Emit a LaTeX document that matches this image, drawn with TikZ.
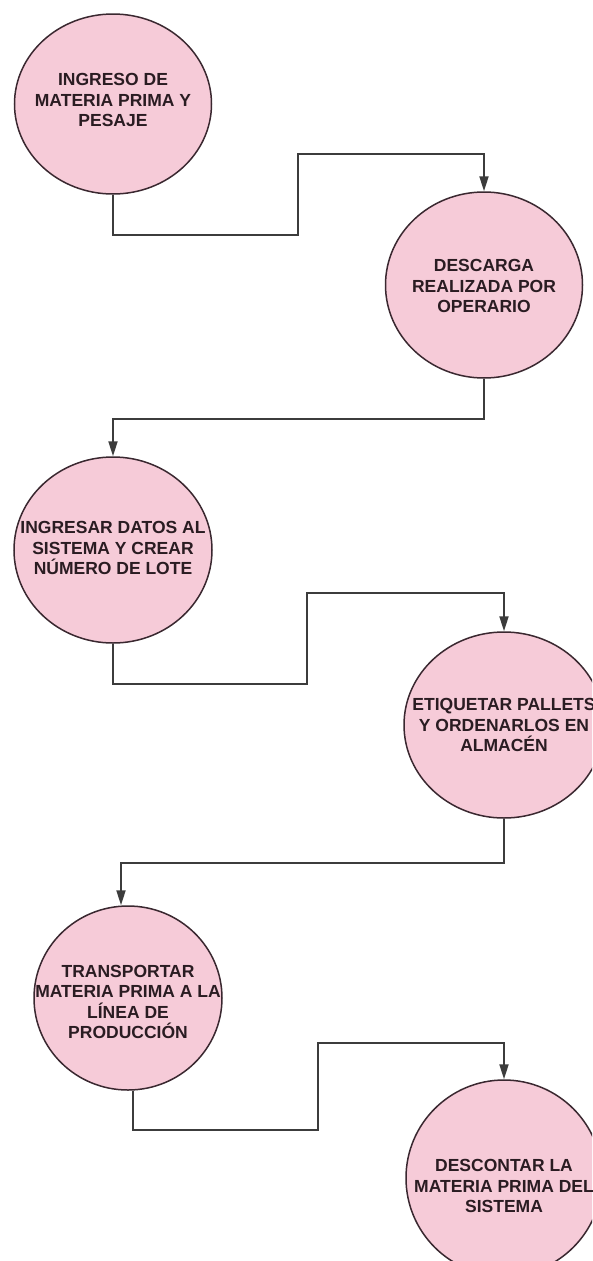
\documentclass[tikz,border=0pt]{standalone}
\usepackage{fontspec}
\setmainfont{Liberation Sans}
\usetikzlibrary{shapes.geometric,arrows.meta}
\definecolor{stepfill}{HTML}{F6CBD8}
\definecolor{stepline}{HTML}{3A2830}
\definecolor{steptext}{HTML}{2A1C22}
\definecolor{linkgray}{HTML}{3C3C3C}
\begin{document}
\begin{tikzpicture}[x=1pt,y=-1pt,
  stepnode/.style={ellipse, draw=stepline, line width=1.5pt, fill=stepfill, inner sep=0pt},
  steplabel/.style={inner sep=0pt, text=steptext, align=center,
    font=\bfseries\fontsize{17.5}{20.5}\selectfont},
  link/.style={draw=linkgray, line width=1.9pt, -{Triangle[length=15pt,width=9pt]}},
]
\useasboundingbox (0,0) rectangle (592,1261);
\fill[white] (0,0) rectangle (592,1261);
\clip (0,0) rectangle (592,1261);

% process steps
\node[stepnode, minimum width=197pt, minimum height=180pt] (c1) at (113,104) {};
\node[steplabel] (t1) at (113,100) {INGRESO DE\\MATERIA PRIMA Y\\PESAJE};

\node[stepnode, minimum width=197pt, minimum height=186pt] (c2) at (484,285) {};
\node[steplabel] (t2) at (484,286) {DESCARGA\\REALIZADA POR\\OPERARIO};

\node[stepnode, minimum width=198pt, minimum height=186pt] (c3) at (113,550) {};
\node[steplabel] (t3) at (113,548) {INGRESAR DATOS AL\\SISTEMA Y CREAR\\NÚMERO DE LOTE};

\node[stepnode, minimum width=200pt, minimum height=186pt] (c4) at (504,725) {};
\node[steplabel] (t4) at (504,725) {ETIQUETAR PALLETS\\Y ORDENARLOS EN\\ALMACÉN};

\node[stepnode, minimum width=188pt, minimum height=184pt] (c5) at (128,998) {};
\node[steplabel] (t5) at (128,1002) {TRANSPORTAR\\MATERIA PRIMA A LA\\LÍNEA DE\\PRODUCCIÓN};

\node[stepnode, minimum width=196pt, minimum height=196pt] (c6) at (504,1178) {};
\node[steplabel] (t6) at (504,1186) {DESCONTAR LA\\MATERIA PRIMA DEL\\SISTEMA};

% connectors
\draw[link] (c1.south) -- ++(0,40) -| (298,154) -| (c2.north);
\draw[link] (c2.south) -- ++(0,40) -| (c3.north);
\draw[link] (c3.south) -- ++(0,40) -| (307,593) -| (c4.north);
\draw[link] (c4.south) -- ++(0,44) -| ([xshift=-7pt]c5.north);
\draw[link] ([xshift=5pt]c5.south) -- ++(0,39) -| (318,1043) -| (c6.north);
\end{tikzpicture}
\end{document}
